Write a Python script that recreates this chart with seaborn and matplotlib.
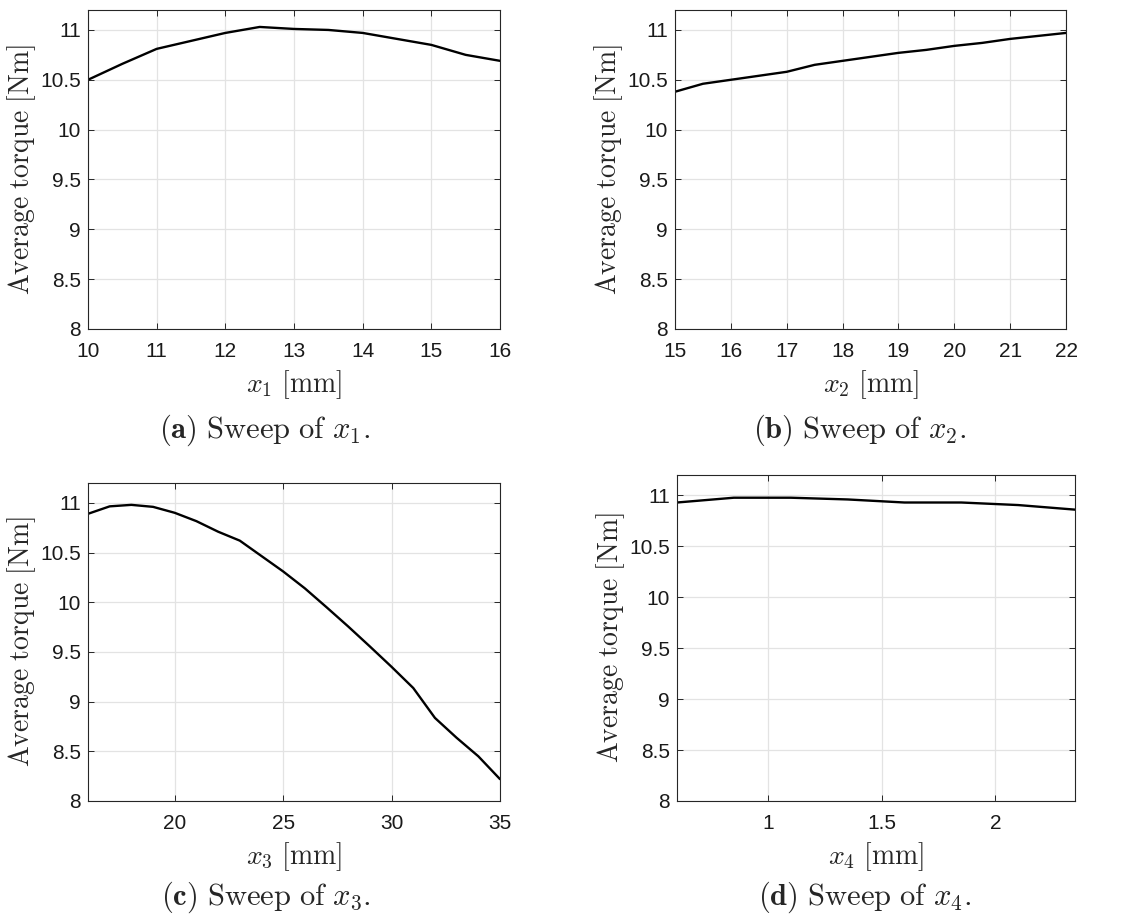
import matplotlib
matplotlib.use("Agg")
import matplotlib.pyplot as plt
import seaborn as sns
import pandas as pd

# ---- data ----
x1 = [10, 10.5, 11, 11.5, 12, 12.5, 13, 13.5, 14, 14.5, 15, 15.5, 16]
t1 = [10.50, 10.66, 10.81, 10.89, 10.97, 11.03, 11.01, 11.00, 10.97, 10.91, 10.85, 10.75, 10.69]

x2 = [15, 15.5, 16, 16.5, 17, 17.5, 18, 18.5, 19, 19.5, 20, 20.5, 21, 21.5, 22]
t2 = [10.38, 10.46, 10.50, 10.54, 10.58, 10.65, 10.69, 10.73, 10.77, 10.80, 10.84, 10.87, 10.91, 10.94, 10.97]

x3 = [16, 17, 18, 19, 20, 21, 22, 23, 24, 25, 26, 27, 28, 29, 30, 31, 32, 33, 34, 35]
t3 = [10.89, 10.965, 10.98, 10.96, 10.90, 10.816, 10.71, 10.62, 10.465, 10.31, 10.14, 9.95, 9.756, 9.555, 9.35, 9.137, 8.836, 8.636, 8.45, 8.22]

x4 = [0.6, 0.85, 1.1, 1.35, 1.6, 1.85, 2.1, 2.35]
t4 = [10.93, 10.977, 10.977, 10.96, 10.93, 10.93, 10.905, 10.86]

xlims = [(10, 16), (15, 22), (16, 35), (0.6, 2.35)]
xticks = [[10, 11, 12, 13, 14, 15, 16], [15, 16, 17, 18, 19, 20, 21, 22], [20, 25, 30, 35], [1, 1.5, 2]]
xticklabels = [["10", "11", "12", "13", "14", "15", "16"],
               ["15", "16", "17", "18", "19", "20", "21", "22"],
               ["20", "25", "30", "35"], ["1", "1.5", "2"]]
yticks = [8, 8.5, 9, 9.5, 10, 10.5, 11]
yticklabels = ["8", "8.5", "9", "9.5", "10", "10.5", "11"]
xlabels = [r"$x_1\ \mathrm{[mm]}$", r"$x_2\ \mathrm{[mm]}$", r"$x_3\ \mathrm{[mm]}$", r"$x_4\ \mathrm{[mm]}$"]
captions = [r"$\mathbf{(a)}\ \mathrm{Sweep\ of}\ x_1.$", r"$\mathbf{(b)}\ \mathrm{Sweep\ of}\ x_2.$",
            r"$\mathbf{(c)}\ \mathrm{Sweep\ of}\ x_3.$", r"$\mathbf{(d)}\ \mathrm{Sweep\ of}\ x_4.$"]
ylabel = r"$\mathrm{Average\ torque\ [Nm]}$"

sns.set_theme(style="whitegrid")
plt.rcParams["font.family"] = ["Liberation Sans", "DejaVu Sans"]
plt.rcParams["mathtext.fontset"] = "cm"

fig = plt.figure(figsize=(11.3, 9.15), dpi=100)
W, H = 1130, 915
boxes = [(88, 10, 500, 329), (675, 10, 1066, 329), (88, 483, 500, 801), (677, 475, 1075, 801)]
cap_pos = [(265, 430), (860, 430), (266, 897), (865, 897)]
xs = [x1, x2, x3, x4]
ts = [t1, t2, t3, t4]

for i in range(4):
    l, t, r, b = boxes[i]
    ax = fig.add_axes([l / W, 1 - b / H, (r - l) / W, (b - t) / H])
    df = pd.DataFrame({"x": xs[i], "torque": ts[i]})
    sns.lineplot(data=df, x="x", y="torque", ax=ax, color="black", linewidth=1.7)
    ax.set_xlim(*xlims[i])
    ax.set_ylim(8, 11.2)
    ax.set_xticks(xticks[i])
    ax.set_xticklabels(xticklabels[i])
    ax.set_yticks(yticks)
    ax.set_yticklabels(yticklabels)
    ax.grid(True, color="#e3e3e3", linewidth=0.9)
    ax.set_facecolor("white")
    for s in ax.spines.values():
        s.set_color("#262626")
        s.set_linewidth(0.8)
    ax.tick_params(direction="in", length=4, width=0.7, colors="#262626",
                   labelcolor="#1a1a1a", labelsize=15, top=True, right=True,
                   bottom=True, left=True, pad=5)
    ax.tick_params(axis="x", pad=9.5)
    ax.set_xlabel(xlabels[i], fontsize=20, labelpad=5)
    ax.set_ylabel(ylabel, fontsize=20, labelpad=2)
    fig.text(cap_pos[i][0] / W, 1 - cap_pos[i][1] / H, captions[i], fontsize=22,
             ha="center", va="center")

fig.savefig("out.png", dpi=100, facecolor="white")
